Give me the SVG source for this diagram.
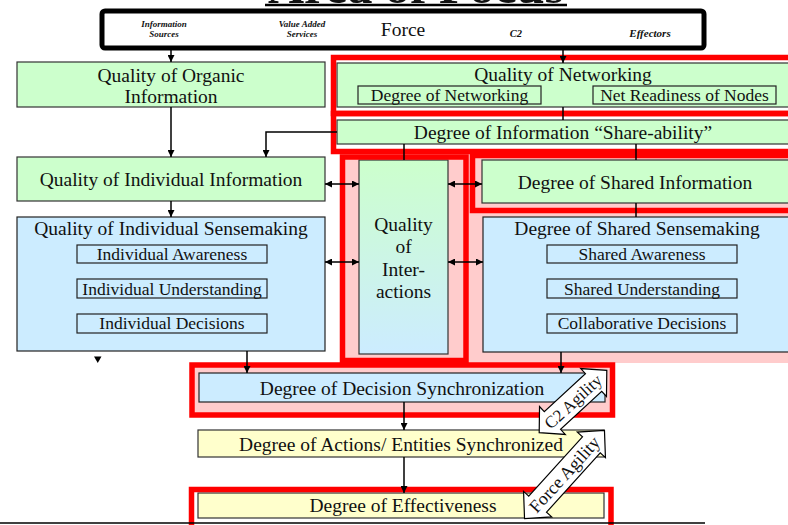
<svg xmlns="http://www.w3.org/2000/svg" width="788" height="525" viewBox="0 0 788 525">
<defs>
<style>
.t{font-family:"Liberation Serif","Times New Roman",serif;fill:#111;text-anchor:middle}
.m{font-size:19.5px}
.s{font-size:17.5px}
.h{font-size:9px;font-weight:bold;font-style:italic}
.g{fill:#ccffcc;stroke:#333;stroke-width:1.2}
.b{fill:#ccecff;stroke:#222;stroke-width:1.2}
.y{fill:#ffffcc;stroke:#333;stroke-width:1.2}
.sub{fill:none;stroke:#222;stroke-width:1.2}
.red{fill:none;stroke:#ff0000;stroke-width:5.5}
.c{fill:none;stroke:#000;stroke-width:1.5}
.ag{fill:#fff;stroke:#000;stroke-width:1.2}
</style>
<marker id="ah" viewBox="0 0 8 8" refX="8" refY="4" markerWidth="7" markerHeight="7" markerUnits="userSpaceOnUse" orient="auto-start-reverse">
<path d="M0,0 L8,4 L0,8 z" fill="#000"/>
</marker>
<linearGradient id="gi" x1="0" y1="0" x2="0" y2="1">
<stop offset="0" stop-color="#ccffcc"/>
<stop offset="1" stop-color="#ccecff"/>
</linearGradient>
</defs>

<g id="title">
<text class="t" x="416" y="3" style="font-size:48px;font-weight:bold" textLength="296" lengthAdjust="spacingAndGlyphs">Area of Focus</text>
<line x1="265" y1="5" x2="567" y2="5" stroke="#000" stroke-width="2.5"/>
</g>

<rect x="340" y="153" width="448" height="210" fill="#ffcccc"/>

<g id="header">
<rect x="102" y="11" width="602" height="37" rx="3" fill="#fff" stroke="#000" stroke-width="5"/>
<text class="t h" x="164" y="27">Information</text>
<text class="t h" x="164" y="37">Sources</text>
<text class="t h" x="302" y="27">Value Added</text>
<text class="t h" x="302" y="37">Services</text>
<text class="t" x="403" y="36" style="font-size:19.5px">Force</text>
<text class="t h" x="516" y="37" style="font-size:10.5px">C2</text>
<text class="t h" x="650" y="37" style="font-size:11px">Effectors</text>
</g>

<g id="organic">
<rect class="g" x="17" y="62" width="308" height="45"/>
<text class="t m" x="171" y="82">Quality of Organic</text>
<text class="t m" x="171" y="103">Information</text>
</g>

<g id="networking">
<rect class="g" x="337" y="63" width="460" height="44"/>
<text class="t m" x="563" y="81">Quality of Networking</text>
<rect class="sub" x="358" y="86" width="183" height="18"/>
<text class="t s" x="449.5" y="101">Degree of Networking</text>
<rect class="sub" x="593" y="86" width="183" height="18"/>
<text class="t s" x="684.5" y="101">Net Readiness of Nodes</text>
</g>

<g id="shareability">
<rect class="g" x="337" y="120" width="460" height="24"/>
<text class="t m" x="563" y="138.5">Degree of Information “Share-ability”</text>
</g>

<g id="indinfo">
<rect class="g" x="17" y="157" width="308" height="44"/>
<text class="t m" x="171" y="186">Quality of Individual Information</text>
</g>

<g id="interactions">
<rect x="359" y="160" width="89" height="194" fill="url(#gi)" stroke="#333" stroke-width="1.2"/>
<text class="t m" x="403.5" y="231">Quality</text>
<text class="t m" x="403.5" y="253">of</text>
<text class="t m" x="403.5" y="276">Inter-</text>
<text class="t m" x="403.5" y="298">actions</text>
</g>

<g id="sharedinfo">
<rect class="g" x="482" y="160" width="315" height="43"/>
<text class="t m" x="635" y="189">Degree of Shared Information</text>
</g>

<g id="indsense">
<rect class="b" x="17" y="217" width="308" height="134"/>
<text class="t m" x="171" y="235">Quality of Individual Sensemaking</text>
<rect class="sub" x="77" y="245" width="190" height="18"/>
<text class="t s" x="172" y="260">Individual Awareness</text>
<rect class="sub" x="77" y="279" width="190" height="19"/>
<text class="t s" x="172" y="295">Individual Understanding</text>
<rect class="sub" x="77" y="314" width="190" height="19"/>
<text class="t s" x="172" y="329">Individual Decisions</text>
</g>

<g id="sharedsense">
<rect class="b" x="483" y="217" width="314" height="135"/>
<text class="t m" x="637" y="235">Degree of Shared Sensemaking</text>
<rect class="sub" x="547" y="245" width="190" height="18"/>
<text class="t s" x="642" y="260">Shared Awareness</text>
<rect class="sub" x="547" y="279" width="190" height="19"/>
<text class="t s" x="642" y="295">Shared Understanding</text>
<rect class="sub" x="547" y="314" width="190" height="19"/>
<text class="t s" x="642" y="329">Collaborative Decisions</text>
</g>

<g id="decision">
<rect x="192" y="365" width="420.5" height="50" fill="#ffcccc"/>
<rect class="b" x="199" y="373" width="406" height="29"/>
<text class="t m" x="402" y="395">Degree of Decision Synchronization</text>
</g>

<g id="actions">
<rect class="y" x="198" y="430" width="406" height="27"/>
<text class="t m" x="401" y="450.5">Degree of Actions/ Entities Synchronized</text>
</g>

<g id="effectiveness">
<rect class="y" x="198" y="493" width="406" height="25"/>
<text class="t m" x="403" y="512">Degree of Effectiveness</text>
</g>

<g id="focus-frames">
<rect class="red" x="333.5" y="57.5" width="470" height="56"/>
<rect class="red" x="333.5" y="113.5" width="470" height="38"/>
<rect class="red" x="342.5" y="157" width="123.5" height="203.5"/>
<rect class="red" x="472.5" y="155.5" width="330" height="55"/>
<rect class="red" x="192" y="365" width="420.5" height="50"/>
<rect class="red" x="191.5" y="489.5" width="419.5" height="60"/>
</g>

<g id="connectors">
<path class="c" d="M171,49 V62" marker-end="url(#ah)"/>
<path class="c" d="M563,49 V63" marker-end="url(#ah)"/>
<path class="c" d="M171,107 V157" marker-end="url(#ah)"/>
<path class="c" d="M337,132 H266 V157" marker-end="url(#ah)"/>
<path class="c" d="M563,107 V120"/>
<path class="c" d="M404,144 V160"/>
<path class="c" d="M636,144 V160"/>
<path class="c" d="M636,203 V217"/>
<path class="c" d="M171,201 V217" marker-end="url(#ah)"/>
<path class="c" d="M325,184 H359" marker-start="url(#ah)" marker-end="url(#ah)"/>
<path class="c" d="M448,184 H482" marker-start="url(#ah)" marker-end="url(#ah)"/>
<path class="c" d="M325,262 H359" marker-start="url(#ah)" marker-end="url(#ah)"/>
<path class="c" d="M448,262 H483" marker-start="url(#ah)" marker-end="url(#ah)"/>
<path class="c" d="M247,351 V373" marker-end="url(#ah)"/>
<path class="c" d="M561,352 V373" marker-end="url(#ah)"/>
<path class="c" d="M404,402 V430" marker-end="url(#ah)"/>
<path class="c" d="M404,457 V493" marker-end="url(#ah)"/>
<polygon points="94,356.5 101.5,356.5 97.75,363" fill="#000"/>
</g>

<line x1="0" y1="523" x2="705" y2="523" stroke="#000" stroke-width="1.5"/>

<g id="c2-agility" transform="translate(573,401.5) rotate(-42.7)">
<polygon class="ag" points="-46,0 -28,-19 -28,-12 28,-12 28,-19 46,0 28,19 28,12 -28,12 -28,19"/>
<text class="t" x="0" y="6" style="font-size:17px">C2 Agility</text>
</g>

<g id="force-agility" transform="translate(564.5,474.5) rotate(-47.8)">
<polygon class="ag" points="-59.5,0 -40,-19 -40,-12 40,-12 40,-19 59.5,0 40,19 40,12 -40,12 -40,19"/>
<text class="t" x="0" y="6" style="font-size:18px">Force Agility</text>
</g>
</svg>
